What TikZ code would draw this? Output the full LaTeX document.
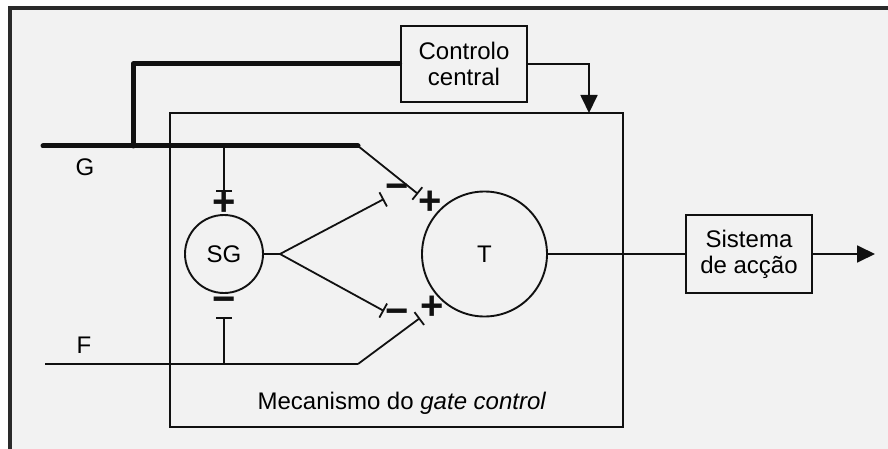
\documentclass[tikz,border=0pt]{standalone}
\usepackage{fontspec}
\setmainfont{Liberation Sans}
\usetikzlibrary{arrows.meta}
\definecolor{bggray}{HTML}{F2F2F2}
\definecolor{framec}{HTML}{2A2A2A}
\definecolor{ink}{HTML}{111111}
\tikzset{
  thinline/.style={draw=ink,line width=1.8pt},
  thickline/.style={draw=ink,line width=5pt,line cap=round,line join=round},
  inhib/.style={thinline,-{Bar[width=16pt,line width=1.8pt]}},
  arr/.style={thinline,-{Triangle[length=18pt,width=17pt]}},
  boxnode/.style={draw=ink,line width=2.8pt,inner sep=0pt,align=center,
     font=\fontsize{24}{26}\selectfont},
  gatebox/.style={draw=ink,line width=2.2pt,inner sep=0pt},
  cell/.style={circle,draw=ink,line width=1.9pt,inner sep=0pt,
     font=\fontsize{24}{26}\selectfont},
  lbl/.style={inner sep=0pt,font=\fontsize{24}{26}\selectfont},
  sign/.style={inner sep=0pt,text=ink,font=\fontsize{40}{40}\bfseries\selectfont}
}
\begin{document}
\begin{tikzpicture}[x=1pt,y=-1pt]
\useasboundingbox (0,0) rectangle (888,449);
% frame
\fill[white] (0,0) rectangle (888,449);
\fill[bggray] (10,8) rectangle (888,449);
\draw[framec,line width=4pt] (10,449) -- (10,8) -- (888,8);

% boxes
\node[boxnode,minimum width=126pt,minimum height=76pt] (ctrl) at (464,64) {Controlo\\central};
\node[gatebox,minimum width=453pt,minimum height=314pt] (gate) at (396.5,270) {};
\node[boxnode,minimum width=126pt,minimum height=78pt] (acc) at (749,254) {Sistema\\de acção};

% cells
\node[cell,minimum size=78pt] (sg) at (224,254) {SG};
\node[cell,minimum size=125pt] (t) at (484.5,254) {T};

% labels
\node[lbl] (glbl) at (85,167) {G};
\node[lbl] (flbl) at (84,345) {F};
\node[lbl] (mlbl) at (402,403) {Mecanismo do \textit{gate control}};

% coordinates
\coordinate (gjoin) at (133,146);
\coordinate (gstart) at (43,146);
\coordinate (gend) at (358,146);
\coordinate (gsg) at (224,146);
\coordinate (gsgbar) at (224,192);
\coordinate (gtbar) at (418,194);
\coordinate (fstart) at (45,364);
\coordinate (fend) at (358,364);
\coordinate (fsg) at (224,364);
\coordinate (fsgbar) at (224,317);
\coordinate (ftbar) at (420,318);
\coordinate (fork) at (280,254);
\coordinate (sgup) at (384,199);
\coordinate (sgdn) at (384,311);
\coordinate (ctrlin) at (589,113);
\coordinate (out) at (875,254);

% G fibre and central control
\draw[thickline] (ctrl.west) -| (gjoin);
\draw[thickline] (gstart) -- (gend);
\draw[arr] (ctrl.east) -| (ctrlin);

% G connections
\draw[inhib] (gsg) -- (gsgbar);
\draw[inhib] (gend) -- (gtbar);

% F fibre
\draw[thinline] (fstart) -- (fend);
\draw[inhib] (fsg) -- (fsgbar);
\draw[inhib] (fend) -- (ftbar);

% SG to T
\draw[thinline] (sg.east) -- (fork);
\draw[inhib] (fork) -- (sgup);
\draw[inhib] (fork) -- (sgdn);

% T output
\draw[thinline] (t.east) -- (acc.west);
\draw[arr] (acc.east) -- (out);

% signs
\node[sign] (s1) at (224,204) {+};
\node[sign] (s2) at (224,305) {−};
\node[sign] (s3) at (397,192) {−};
\node[sign] (s4) at (430,203) {+};
\node[sign] (s5) at (397,317) {−};
\node[sign] (s6) at (432,308) {+};
\end{tikzpicture}
\end{document}
